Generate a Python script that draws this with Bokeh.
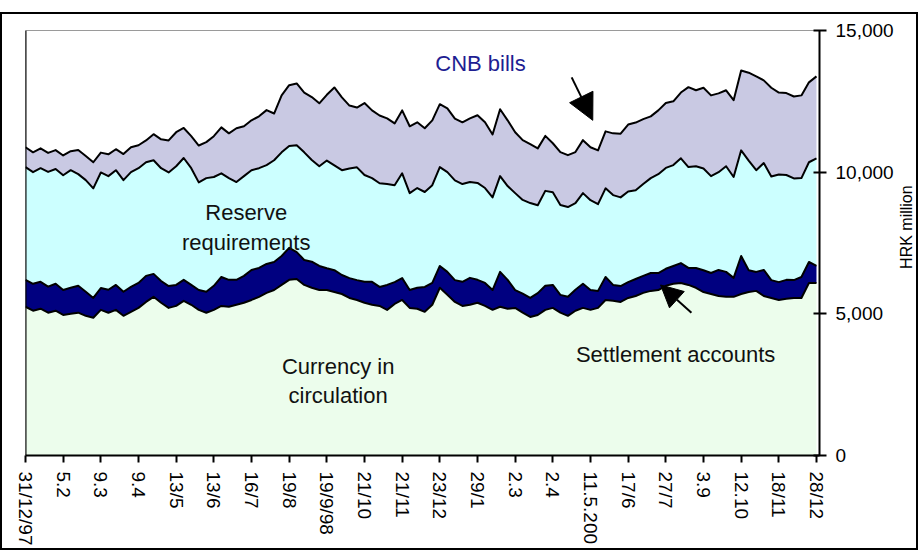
import numpy as np
from bokeh.plotting import figure
from bokeh.layouts import row
from bokeh.models import Range1d, FixedTicker, NumeralTickFormatter, Span, Label, Arrow, NormalHead
from bokeh.embed import file_html
from bokeh.resources import INLINE

# ---------------- data (HRK million, stacked components) ----------------
tick_labels = ["31/12/97", "5.2", "9.3", "9.4", "13/5", "13/6", "16/7", "19/8", "19/9/98",
               "21/10", "21/11", "23/12", "29/1", "2.3", "2.4", "11.5.200", "17/6", "27/7",
               "3.9", "12.10", "18/11", "28/12"]

currency = [5250, 5110, 5180, 5040, 5110, 4960, 5000, 5040, 4930, 4860,
            5140, 5040, 5140, 4930, 5070, 5210, 5420, 5600, 5390, 5210,
            5280, 5460, 5320, 5140, 5040, 5140, 5280, 5250, 5320, 5390,
            5490, 5600, 5740, 5840, 6020, 6200, 6230, 6020, 5920, 5840,
            5840, 5770, 5700, 5560, 5490, 5390, 5320, 5280, 5140, 5350,
            5490, 5210, 5180, 5070, 5320, 5920, 5670, 5420, 5280, 5320,
            5390, 5280, 5140, 5250, 5180, 5210, 5040, 4890, 4960, 5140,
            5210, 5040, 4930, 5110, 5210, 5140, 5210, 5490, 5460, 5420,
            5560, 5630, 5740, 5810, 5840, 5990, 6060, 6090, 6020, 5920,
            5770, 5700, 5630, 5600, 5600, 5700, 5770, 5810, 5630, 5560,
            5490, 5530, 5560, 5560, 6090, 6090]

settlement = [950, 950, 950, 920, 950, 880, 920, 950, 850, 700,
              770, 810, 880, 850, 880, 880, 920, 810, 770, 770,
              740, 740, 700, 700, 740, 850, 1020, 950, 880, 950,
              1060, 1020, 1020, 990, 1020, 1130, 950, 880, 920, 850,
              770, 770, 670, 700, 700, 740, 810, 670, 880, 770,
              770, 630, 740, 880, 770, 770, 810, 770, 850, 950,
              810, 810, 700, 1230, 1020, 630, 670, 670, 770, 850,
              810, 630, 670, 740, 850, 700, 600, 810, 560, 560,
              560, 600, 600, 630, 600, 600, 630, 700, 600, 700,
              770, 740, 920, 880, 670, 1340, 770, 670, 920, 630,
              630, 670, 630, 740, 740, 600]

reserve = [3980, 3940, 4010, 4050, 4050, 4050, 4150, 3940, 3940, 3870,
           4080, 4010, 4050, 3940, 4050, 4050, 4010, 4010, 3980, 4010,
           4190, 4300, 4120, 3800, 4010, 3840, 3660, 3590, 3450, 3520,
           3520, 3520, 3490, 3590, 3660, 3590, 3770, 3800, 3590, 3520,
           3800, 3700, 3700, 3870, 3980, 3770, 3660, 3660, 3560, 3420,
           3700, 3420, 3520, 3350, 3450, 3490, 3520, 3520, 3450, 3380,
           3420, 3350, 3270, 3380, 3310, 3420, 3310, 3350, 3100, 3350,
           3270, 3170, 3170, 3060, 3200, 3170, 3060, 3130, 3170, 3130,
           3200, 3130, 3240, 3350, 3490, 3560, 3560, 3700, 3560, 3590,
           3590, 3420, 3450, 3730, 3560, 3730, 3870, 3590, 3770, 3660,
           3800, 3700, 3590, 3490, 3520, 3800]

cnb_bills = [700, 700, 700, 670, 670, 700, 670, 850, 850, 920,
             700, 770, 740, 920, 880, 810, 770, 920, 1020, 1130,
             1200, 1060, 1130, 1300, 1270, 1440, 1620, 1580, 1900, 1760,
             1760, 1830, 1940, 1650, 2010, 2150, 2180, 2110, 2220, 2220,
             2320, 2750, 2570, 2220, 2110, 2540, 2390, 2390, 2320, 2180,
             2220, 2360, 2320, 2250, 2290, 2220, 2250, 2180, 2180, 2250,
             2390, 2320, 2220, 2360, 2320, 2150, 2110, 2080, 2010, 1940,
             1730, 1870, 1830, 1800, 1870, 1870, 1900, 2010, 2180, 2250,
             2360, 2390, 2290, 2180, 2250, 2290, 2250, 2320, 2820, 2680,
             2850, 2850, 2780, 2680, 2710, 2820, 3100, 3310, 2920, 3130,
             2890, 2890, 2890, 2920, 2820, 2890]

y_ticks = [0, 5000, 10000, 15000]

# ---------------- derived stacks ----------------
x = np.arange(len(currency))
c1 = np.array(currency, dtype=float)
c2 = c1 + np.array(settlement)
c3 = c2 + np.array(reserve)
c4 = c3 + np.array(cnb_bills)
zero = np.zeros_like(c1)

FONT = "Liberation Sans"
yr = Range1d(0, 15000)

p = figure(width=896, height=534, output_backend="svg", toolbar_location=None,
           x_range=Range1d(0, 105.4), y_range=yr,
           y_axis_location="right", x_axis_location="below",
           min_border_left=23, min_border_top=16, min_border_right=79, min_border_bottom=93)
p.background_fill_color = "white"
p.border_fill_color = "white"
p.outline_line_color = "#9a9a9a"
p.outline_line_width = 1
p.xgrid.visible = False
p.ygrid.visible = False

fills = ["#ECFDEC", "#000080", "#CCFFFF", "#C9C9E3"]
bounds = [zero, c1, c2, c3, c4]
for k in range(4):
    p.varea(x=x, y1=bounds[k], y2=bounds[k + 1], fill_color=fills[k], fill_alpha=1)
for b in bounds[1:]:
    p.line(x=x, y=b, line_color="black", line_width=2, line_join="round")

p.add_layout(Span(location=0, dimension="height", line_color="black", line_width=2))

# axes
xa = p.xaxis[0]
xa.ticker = FixedTicker(ticks=[5 * i for i in range(len(tick_labels))])
xa.major_label_overrides = {5 * i: lab for i, lab in enumerate(tick_labels)}
xa.major_label_orientation = "vertical"
xa.major_tick_in = 0
xa.major_tick_out = 7
xa.minor_tick_line_color = None
xa.axis_line_width = 2
xa.major_tick_line_width = 2
xa.major_label_standoff = 9
xa.major_label_text_font = FONT
xa.major_label_text_font_size = "19px"
xa.major_label_text_color = "black"

ya = p.yaxis[0]
ya.ticker = FixedTicker(ticks=y_ticks)
ya.formatter = NumeralTickFormatter(format="0,0")
ya.major_tick_in = 6
ya.major_tick_out = 7
ya.minor_tick_line_color = None
ya.axis_line_width = 2
ya.major_tick_line_width = 2
ya.major_label_standoff = 9
ya.major_label_text_font = FONT
ya.major_label_text_font_size = "19px"
ya.major_label_text_color = "black"

# annotations
def lab(txt, xi, yv, color="#111111", size="22px"):
    p.add_layout(Label(x=xi, y=yv, text=txt, text_align="center", text_baseline="alphabetic",
                       text_font=FONT, text_font_size=size, text_color=color))

lab("CNB bills", 60.4, 13840, color="#1e1e92")
lab("Reserve", 29.3, 8560)
lab("requirements", 29.3, 7520)
lab("Currency in", 41.5, 3130)
lab("circulation", 41.5, 2110)
lab("Settlement accounts", 86.3, 3560)

p.add_layout(Arrow(x_start=72.5, y_start=13345, x_end=75.3, y_end=11830, line_color="black",
                   line_width=2, end=NormalHead(size=26, fill_color="black", line_color="black")))
p.add_layout(Arrow(x_start=88.4, y_start=5035, x_end=84.3, y_end=6020, line_color="black",
                   line_width=2, end=NormalHead(size=22, fill_color="black", line_color="black")))

# narrow strip carrying the unit title, reading bottom-to-top
q = figure(width=18, height=534, output_backend="svg", toolbar_location=None,
           x_range=Range1d(0, 1), y_range=yr, x_axis_location=None, y_axis_location=None,
           min_border_left=0, min_border_right=0, min_border_top=16, min_border_bottom=93)
q.outline_line_color = None
q.background_fill_color = "white"
q.border_fill_color = "white"
q.xgrid.visible = False
q.ygrid.visible = False
q.add_layout(Label(x=0.45, y=8060, text="HRK million", angle=np.pi / 2, text_align="center",
                   text_baseline="middle", text_font=FONT, text_font_size="16px",
                   text_color="black"))

layout = row(p, q, spacing=0)
layout.styles = {"border": "2px solid black", "margin-top": "12px"}

open("out.html", "w").write(file_html(layout, INLINE))
